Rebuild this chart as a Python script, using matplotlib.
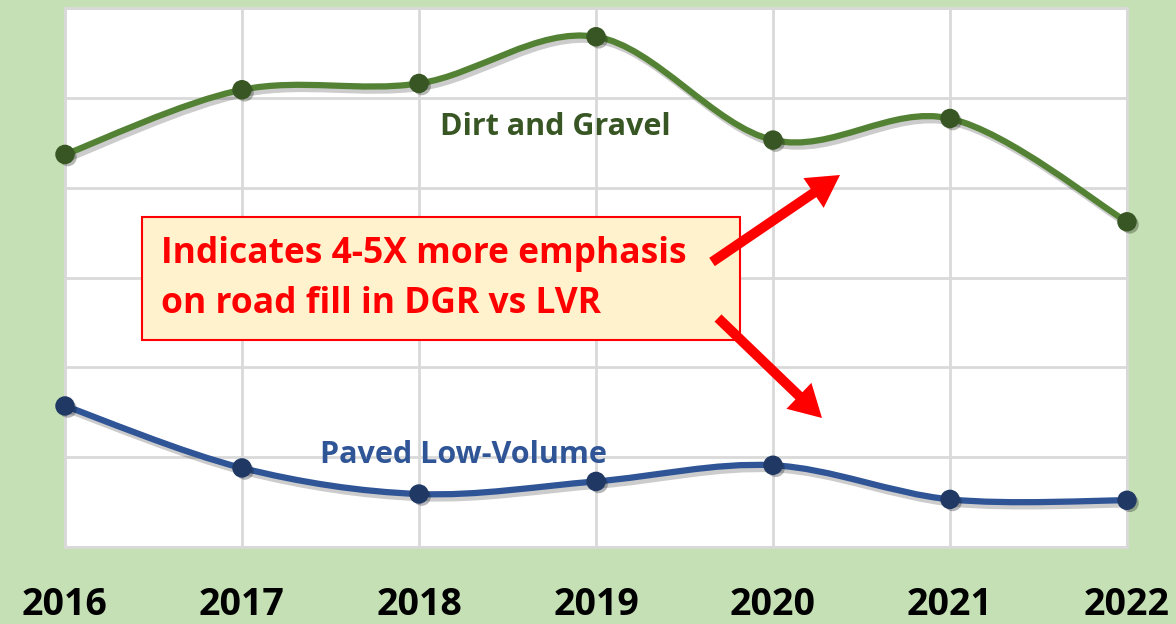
import numpy as np
import matplotlib.pyplot as plt
from matplotlib.path import Path
from matplotlib.patches import PathPatch, FancyArrow
from matplotlib.transforms import IdentityTransform
import matplotlib.patheffects as pe

plt.rcParams["font.family"] = ["Open Sans", "DejaVu Sans"]

years = [2016, 2017, 2018, 2019, 2020, 2021, 2022]
dirt_gravel = [43.7, 50.9, 51.6, 56.8, 45.3, 47.7, 36.2]
paved_low = [15.7, 8.8, 5.9, 7.3, 9.1, 5.3, 5.2]

bg = "#c5e0b4"
W, H = 1176, 624


def smooth_path(xs, ys):
    # bezier curve through the points, like a spreadsheet "smoothed line"
    pts = np.column_stack([xs, ys]).astype(float)
    n = len(pts)
    verts = [pts[0]]
    codes = [Path.MOVETO]
    for i in range(n - 1):
        p0 = pts[max(i - 1, 0)]
        p1 = pts[i]
        p2 = pts[i + 1]
        p3 = pts[min(i + 2, n - 1)]
        c1 = p1 + (p2 - p0) / 6
        c2 = p2 - (p3 - p1) / 6
        verts += [c1, c2, p2]
        codes += [Path.CURVE4] * 3
    return Path(verts, codes)


fig = plt.figure(figsize=(W / 100, H / 100), dpi=100, facecolor=bg)
ax = fig.add_axes([65 / W, 1 - 547 / H, (1127 - 65) / W, (547 - 8) / H])
ax.set_facecolor("white")

shadow = [pe.SimpleLineShadow(offset=(2, -3), alpha=0.2, shadow_color="black"), pe.Normal()]
for vals, lc, mc in [(dirt_gravel, "#548235", "#375623"), (paved_low, "#2f5597", "#203864")]:
    patch = PathPatch(smooth_path(years, vals), facecolor="none", edgecolor=lc,
                      lw=4.5, transform=ax.transData, zorder=3, capstyle="round")
    patch.set_path_effects(shadow)
    ax.add_patch(patch)
    ax.plot(years, vals, "o", ms=13, color=mc, zorder=4, clip_on=False,
            path_effects=[pe.SimplePatchShadow(offset=(2, -2), alpha=0.3), pe.Normal()])

ax.set_xlim(2016, 2022)
ax.set_ylim(0, 60)
ax.set_xticks(years)
ax.set_yticks(np.arange(0, 61, 10))
ax.set_yticklabels([])
ax.tick_params(axis="y", length=0)
ax.tick_params(axis="x", length=0, pad=28)
ax.set_xticklabels([str(y) for y in years], fontsize=27, fontweight="bold", color="black")
ax.grid(True, color="#d9d9d9", lw=2)
ax.set_axisbelow(True)
for s in ax.spines.values():
    s.set_color("#d9d9d9")
    s.set_linewidth(2)

ax.text(2019 - 0.23, 46.7, "Dirt and Gravel", color="#375623", fontsize=22,
        fontweight="bold", ha="center", va="center", zorder=5)
ax.text(2018.25, 10.2, "Paved Low-Volume", color="#2f5597", fontsize=22,
        fontweight="bold", ha="center", va="center", zorder=5)

# callout box
box = plt.Rectangle((142 / W, 1 - 340 / H), (740 - 142) / W, (340 - 217) / H,
                    transform=fig.transFigure, facecolor="#fff2cc", edgecolor="#ff0000",
                    lw=1.5, zorder=5)
fig.add_artist(box)
for line, yy in [("Indicates 4-5X more emphasis", 254), ("on road fill in DGR vs LVR", 304)]:
    fig.text(161 / W, 1 - yy / H, line, color="#ff0000", fontsize=25.5,
             fontweight="bold", ha="left", va="center", zorder=6)


# arrows, given in picture pixels from the top-left corner
def arrow(x0, y0, x1, y1):
    fig.add_artist(FancyArrow(x0, H - y0, x1 - x0, y0 - y1,
                              width=10, head_width=36, head_length=32,
                              length_includes_head=True, color="#ff0000", lw=0,
                              transform=IdentityTransform(), zorder=7))


arrow(712, 262, 840, 175)
arrow(718, 318, 822, 418)

fig.savefig("out.png", dpi=100, facecolor=bg)
